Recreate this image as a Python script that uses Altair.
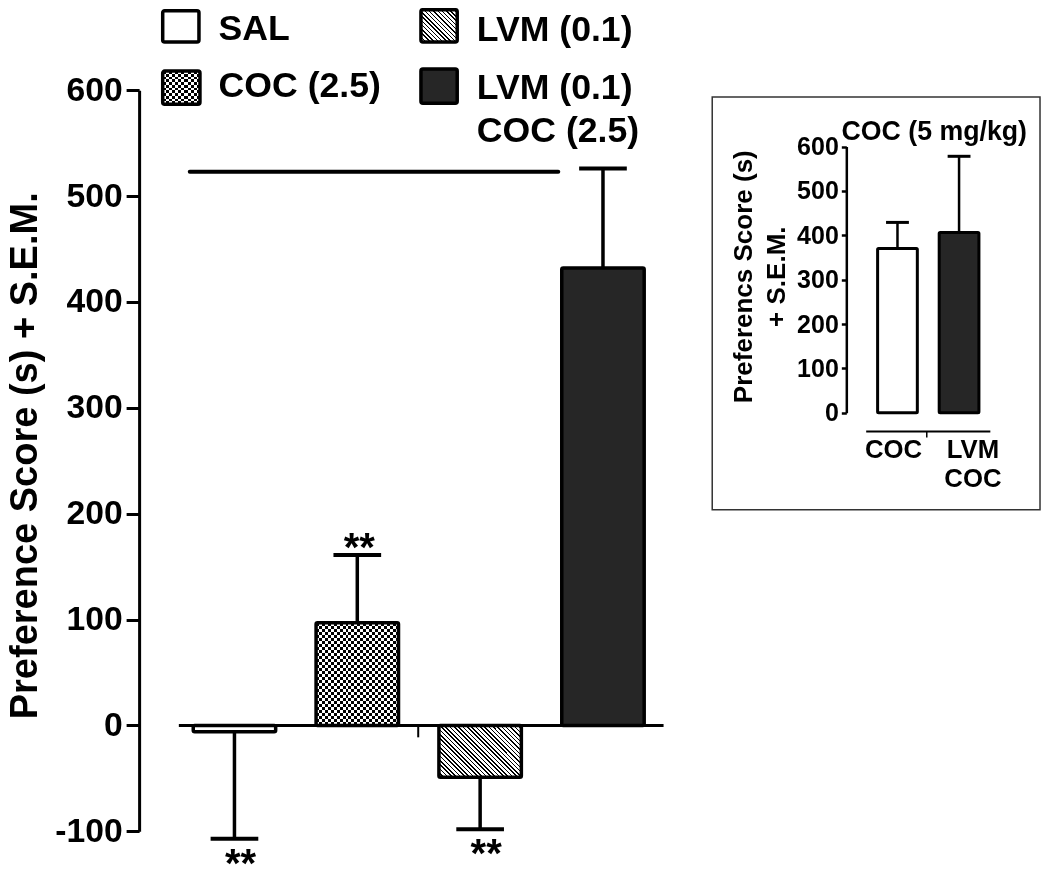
import numpy as np
import pandas as pd
import altair as alt

# ---------------- data ----------------
groups = ["SAL", "COC (2.5)", "LVM (0.1)", "LVM (0.1) + COC (2.5)"]
means = [-6, 97, -49, 432]
sems = [101, 64, 49, 94]
stars = ["**", "**", "**", ""]
significance_level = [523]
y_ticks = [-100, 0, 100, 200, 300, 400, 500, 600]

legend_labels = ["SAL", "COC (2.5)", "LVM (0.1)", "LVM (0.1)\nCOC (2.5)"]

inset_groups = ["COC", "LVM COC"]
inset_labels = ["COC", "LVM\nCOC"]
inset_means = [370, 406]
inset_sems = [59, 172]
inset_ticks = [0, 100, 200, 300, 400, 500, 600]
inset_title = "COC (5 mg/kg)"
main_title = "Preference Score (s) + S.E.M."
inset_axis_title = ["Preferencs Score (s)", "+ S.E.M."]

# ---------------- layout helpers (pixel layout, not data) ----------------
W, H = 1034, 857
KX = 1033 / 1040
KY = 856 / 865
FS = 0.99
BLACK = "#000000"
WHITE = "#ffffff"
DARK = "#262626"
FONT = "Liberation Sans"


def X(r):
    return round((r - 8) * KX, 2)


def Y(r):
    return round((r - 8) * KY, 2)


def stripes(n, frac, c1, c2, x1, y1, x2, y2):
    n = max(1, int(round(n)))
    stops = []
    for i in range(n):
        a, b, c = i / n, (i + frac) / n, (i + 1) / n
        stops += [
            alt.GradientStop(color=c1, offset=round(a, 5)),
            alt.GradientStop(color=c1, offset=round(b, 5)),
            alt.GradientStop(color=c2, offset=round(b, 5)),
            alt.GradientStop(color=c2, offset=round(c, 5)),
        ]
    return alt.LinearGradient(gradient="linear", stops=stops, x1=x1, y1=y1, x2=x2, y2=y2)


def hatch(w, h, period=3.05, frac=0.33):
    r = h / w
    s = (1 + r) / (1 + r * r)
    n = (w + h) / np.sqrt(2) / period
    return stripes(n, frac, BLACK, WHITE, 0, 1, round(s, 4), round(1 - s * r, 4))


def checker(w, h, cell=3.0):
    vert = stripes(w / (2 * cell), 0.5, BLACK, WHITE, 0, 0, 1, 0)
    horiz = stripes(h / (2 * cell), 0.5, BLACK, WHITE, 0, 0, 0, 1)
    return vert, horiz


one = pd.DataFrame({"v": [0]})

# ---------------- main panel ----------------
main_df = pd.DataFrame({"group": groups, "mean": means, "sem": sems, "star": stars})
main_df["end"] = main_df["mean"] + np.sign(main_df["mean"]) * main_df["sem"]

x0, x1 = X(194.5), X(648.5)
p_in = 0.329
step = (x1 - x0) / (len(groups) - p_in)
bw = step * (1 - p_in)
ppu = (Y(840) - Y(91)) / 700

xs = alt.Scale(type="band", domain=groups, range=[x0, x1], paddingInner=p_in, paddingOuter=0)
ys = alt.Scale(domain=[-100, 600], range=[Y(840), Y(91)], nice=False, zero=False)
xenc = alt.X("group:N", scale=xs, axis=None)

main_axis = alt.Axis(
    orient="left", offset=-X(140), values=y_ticks, labelExpr="'' + datum.value",
    grid=False, zindex=1,
    domainColor=BLACK, domainWidth=3, tickColor=BLACK, tickWidth=3, tickSize=13,
    labelFont=FONT, labelFontWeight="bold", labelFontSize=34 * FS, labelColor=BLACK,
    labelPadding=4, labelFlush=False,
    title=main_title, titleFont=FONT, titleFontWeight="bold", titleFontSize=38,
    titleColor=BLACK, titleAngle=270, titleAlign="center", titleBaseline="alphabetic",
    titleX=X(37) - X(140), titleY=Y(460),
)

base = alt.Chart(main_df)


def only(i):
    return alt.FieldEqualPredicate(field="group", equal=groups[i])


zero_line = alt.Chart(one).mark_rule(color=BLACK, strokeWidth=3).encode(
    x=alt.value(X(180)), x2=alt.value(X(668)), y=alt.Y("v:Q", scale=ys, axis=None))
zero_tick = alt.Chart(one).mark_rule(color=BLACK, strokeWidth=2).encode(
    x=alt.value(X(421)), y=alt.Y("v:Q", scale=ys, axis=None), y2=alt.value(Y(745)))
sig_line = alt.Chart(pd.DataFrame({"v": significance_level})).mark_rule(
    color=BLACK, strokeWidth=4, strokeCap="round").encode(
    x=alt.value(X(191)), x2=alt.value(X(562)), y=alt.Y("v:Q", scale=ys, axis=None))

err = base.mark_rule(color=BLACK, strokeWidth=3.5).encode(
    x=xenc, y=alt.Y("mean:Q", scale=ys, axis=None), y2="end:Q")
caps = base.mark_tick(color=BLACK, size=48 * KX, thickness=4, opacity=1).encode(
    x=xenc, y=alt.Y("end:Q", scale=ys, axis=None))


def bar_layer(i, axis=None, **kw):
    return base.transform_filter(only(i)).mark_bar(**kw).encode(
        x=xenc, y=alt.Y("mean:Q", scale=ys, axis=axis), y2=alt.datum(0))


outline = dict(stroke=BLACK, strokeWidth=3.5, cornerRadius=1.5)
coc_v, coc_h = checker(bw, abs(means[1]) * ppu)
bars = [
    bar_layer(0, axis=main_axis, fill=WHITE, **outline),
    bar_layer(1, fill=coc_v, strokeWidth=0),
    bar_layer(1, fill=coc_h, strokeWidth=0, blend="difference"),
    bar_layer(1, fillOpacity=0, **outline),
    bar_layer(2, fill=hatch(bw, abs(means[2]) * ppu), **outline),
    bar_layer(3, fill=DARK, **outline),
]

star_style = dict(font=FONT, fontWeight="bold", fontSize=40, baseline="alphabetic",
                  align="center", color=BLACK)
stars_up = base.transform_filter("datum.star != '' && datum.mean > 0").mark_text(
    dx=2, dy=6, **star_style).encode(x=xenc, y=alt.Y("end:Q", scale=ys, axis=None), text="star:N")
stars_down = base.transform_filter("datum.star != '' && datum.mean < 0").mark_text(
    dx=6, dy=38, **star_style).encode(x=xenc, y=alt.Y("end:Q", scale=ys, axis=None), text="star:N")

main_parts = [zero_line, zero_tick, sig_line, err, caps, *bars, stars_up, stars_down]

# ---------------- legend ----------------
def rect_at(xa, ya, xb, yb, **kw):
    return alt.Chart(one).mark_rect(**kw).encode(
        x=alt.value(X(xa)), x2=alt.value(X(xb)), y=alt.value(Y(ya)), y2=alt.value(Y(yb)))


def text_at(x, y, s, **kw):
    return alt.Chart(one).mark_text(**kw).encode(
        x=alt.value(X(x)), y=alt.value(Y(y)), text=alt.value(s))


sw_line = dict(stroke=BLACK, strokeWidth=3.5, cornerRadius=2)
lv, lh = checker((201.25 - 163.75) * KX, (105.25 - 71.75) * KY)
leg_text = dict(font=FONT, fontWeight="bold", fontSize=36 * FS, align="left",
                baseline="alphabetic", color=BLACK, lineBreak="\n", lineHeight=44 * KY)
legend_parts = [
    rect_at(163.75, 10.75, 200.25, 42.25, fill=WHITE, **sw_line),
    rect_at(163.75, 71.75, 201.25, 105.25, fill=lv, strokeWidth=0),
    rect_at(163.75, 71.75, 201.25, 105.25, fill=lh, strokeWidth=0, blend="difference"),
    rect_at(163.75, 71.75, 201.25, 105.25, fillOpacity=0, **sw_line),
    rect_at(423.75, 9.75, 460.25, 42.25,
            fill=hatch(36.5 * KX, 32.5 * KY), **sw_line),
    rect_at(423.75, 69.75, 460.25, 104.25, fill=DARK, **sw_line),
    text_at(220, 40, legend_labels[0], **leg_text),
    text_at(220, 98, legend_labels[1], **leg_text),
    text_at(480, 41, legend_labels[2], **leg_text),
    text_at(480, 99.5, legend_labels[3], **leg_text),
]

# ---------------- inset ----------------
inset_df = pd.DataFrame({"group": inset_groups, "label": inset_labels,
                         "mean": inset_means, "sem": inset_sems})
inset_df["end"] = inset_df["mean"] + inset_df["sem"]

ixs = alt.Scale(type="band", domain=inset_groups, range=[X(883.5), X(985.5)],
                paddingInner=0.355, paddingOuter=0)
iys = alt.Scale(domain=[0, 600], range=[Y(417), Y(148)], nice=False, zero=False)
ixenc = alt.X("group:N", scale=ixs, axis=None)

inset_axis = alt.Axis(
    orient="left", offset=-X(852), values=inset_ticks, format="d", grid=False, zindex=1,
    domainColor=BLACK, domainWidth=2.5, tickColor=BLACK, tickWidth=2.5, tickSize=5,
    labelFont=FONT, labelFontWeight="bold", labelFontSize=25, labelColor=BLACK,
    labelPadding=3, labelFlush=False,
    title=inset_axis_title, titleFont=FONT, titleFontWeight="bold", titleFontSize=26,
    titleColor=BLACK, titleAngle=270, titleAlign="center", titleBaseline="alphabetic",
    titleX=X(757) - X(852), titleY=Y(279), titleLineHeight=33 * KX,
)

ibase = alt.Chart(inset_df)


def ionly(i):
    return alt.FieldEqualPredicate(field="group", equal=inset_groups[i])


inset_box = rect_at(717, 98, 1047, 515, fillOpacity=0, stroke="#333333", strokeWidth=1.5)
ierr = ibase.mark_rule(color=BLACK, strokeWidth=2.5).encode(
    x=ixenc, y=alt.Y("mean:Q", scale=iys, axis=None), y2="end:Q")
icaps = ibase.mark_tick(color=BLACK, size=23 * KX, thickness=3, opacity=1).encode(
    x=ixenc, y=alt.Y("end:Q", scale=iys, axis=None))
ibar_style = dict(stroke=BLACK, strokeWidth=3, cornerRadius=1)
ibars = [
    ibase.transform_filter(ionly(0)).mark_bar(fill=WHITE, **ibar_style).encode(
        x=ixenc, y=alt.Y("mean:Q", scale=iys, axis=inset_axis), y2=alt.datum(0)),
    ibase.transform_filter(ionly(1)).mark_bar(fill=DARK, **ibar_style).encode(
        x=ixenc, y=alt.Y("mean:Q", scale=iys, axis=None), y2=alt.datum(0)),
]
ix_line = alt.Chart(one).mark_rule(color=BLACK, strokeWidth=2).encode(
    x=alt.value(X(872)), x2=alt.value(X(997)), y=alt.value(Y(436)))
ix_tick = alt.Chart(one).mark_rule(color=BLACK, strokeWidth=1.5).encode(
    x=alt.value(X(933)), y=alt.value(Y(436)), y2=alt.value(Y(442)))
ilab_style = dict(font=FONT, fontWeight="bold", fontSize=26 * FS, align="center",
                  baseline="alphabetic", color=BLACK, lineBreak="\n", lineHeight=29 * KY)
ilabels = [
    ibase.transform_filter(ionly(0)).mark_text(dx=-4 * KX, **ilab_style).encode(
        x=ixenc, y=alt.value(Y(463)), text="label:N"),
    ibase.transform_filter(ionly(1)).mark_text(dx=14 * KX, **ilab_style).encode(
        x=ixenc, y=alt.value(Y(463)), text="label:N"),
]
ititle = text_at(940.5, 141, inset_title, font=FONT, fontWeight="bold", fontSize=27 * FS,
                 align="center", baseline="alphabetic", color=BLACK)

inset_parts = [inset_box, ix_line, ix_tick, ierr, icaps, *ibars, *ilabels, ititle]

chart = (
    alt.layer(*legend_parts, *main_parts, *inset_parts)
    .resolve_scale(x="independent", y="independent")
    .properties(width=W, height=H, padding=0, autosize=alt.AutoSizeParams(type="none"),
                background="white")
    .configure_view(stroke=None)
)

chart.save("out.html", embed_options={"renderer": "svg", "actions": False})
